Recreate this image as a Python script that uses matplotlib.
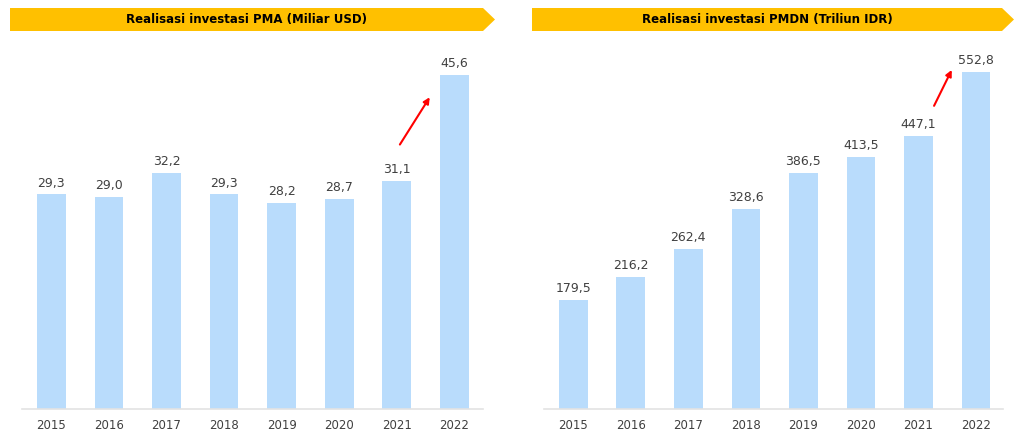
import matplotlib.pyplot as plt
from matplotlib.patches import Polygon

# data
years = ['2015', '2016', '2017', '2018', '2019', '2020', '2021', '2022']
pma_values = [29.3, 29.0, 32.2, 29.3, 28.2, 28.7, 31.1, 45.6]
pmdn_values = [179.5, 216.2, 262.4, 328.6, 386.5, 413.5, 447.1, 552.8]
pma_title = 'Realisasi investasi PMA (Miliar USD)'
pmdn_title = 'Realisasi investasi PMDN (Triliun IDR)'

W, H = 1014, 433
bar_color = '#B9DCFC'
text_color = '#404040'
gold = '#FFC000'

plt.rcParams['font.family'] = ['DejaVu Sans']

fig = plt.figure(figsize=(W / 100, H / 100), dpi=100)


def px(x0, y0, x1, y1):
    # pixel box (top-left origin) -> figure rect
    return [x0 / W, 1 - y1 / H, (x1 - x0) / W, (y1 - y0) / H]


def banner(x0, x1, tip, title):
    y0, y1 = 8, 31
    pts = [(x0, y0), (x1, y0), (tip, (y0 + y1) / 2), (x1, y1), (x0, y1)]
    pts = [(x / W, 1 - y / H) for x, y in pts]
    fig.patches.append(Polygon(pts, closed=True, transform=fig.transFigure,
                               facecolor=gold, edgecolor='none'))
    fig.text((x0 + x1) / 2 / W, 1 - (y0 + y1) / 2 / H, title, ha='center', va='center',
             fontsize=8.5, fontweight='bold', color='black')


def panel(rect, values, ylim_top, xlim, fmt_arrow):
    ax = fig.add_axes(rect)
    x = list(range(len(years)))
    bars = ax.bar(x, values, width=0.5, color=bar_color)
    labels = [f'{v:.1f}'.replace('.', ',') for v in values]
    ax.bar_label(bars, labels=labels, padding=3.5, fontsize=9, color=text_color)
    ax.set_xlim(*xlim)
    ax.set_ylim(0, ylim_top)
    ax.set_xticks(x, years)
    ax.tick_params(axis='x', length=0, pad=7, labelsize=8.5, labelcolor=text_color)
    ax.set_yticks([])
    for side in ['top', 'right', 'left']:
        ax.spines[side].set_visible(False)
    ax.spines['bottom'].set_color('#E3E3E3')
    ax.spines['bottom'].set_linewidth(1.2)
    (sx, sy), (ex, ey) = fmt_arrow
    ax.annotate('', xy=(ex, ey), xytext=(sx, sy),
                arrowprops=dict(arrowstyle='-|>', color='red', lw=1.5, mutation_scale=9))
    return ax


banner(10, 483, 495, pma_title)
banner(532, 1002, 1014, pmdn_title)

panel(px(22, 40, 483, 409), pma_values, 50.4, (-0.51, 7.5),
      ((6.03, 35.8), (6.6, 42.9)))
panel(px(544, 40, 1003, 409), pmdn_values, 605, (-0.51, 7.47),
      ((6.25, 493), (6.6, 560)))

fig.savefig('out.png', dpi=100)
